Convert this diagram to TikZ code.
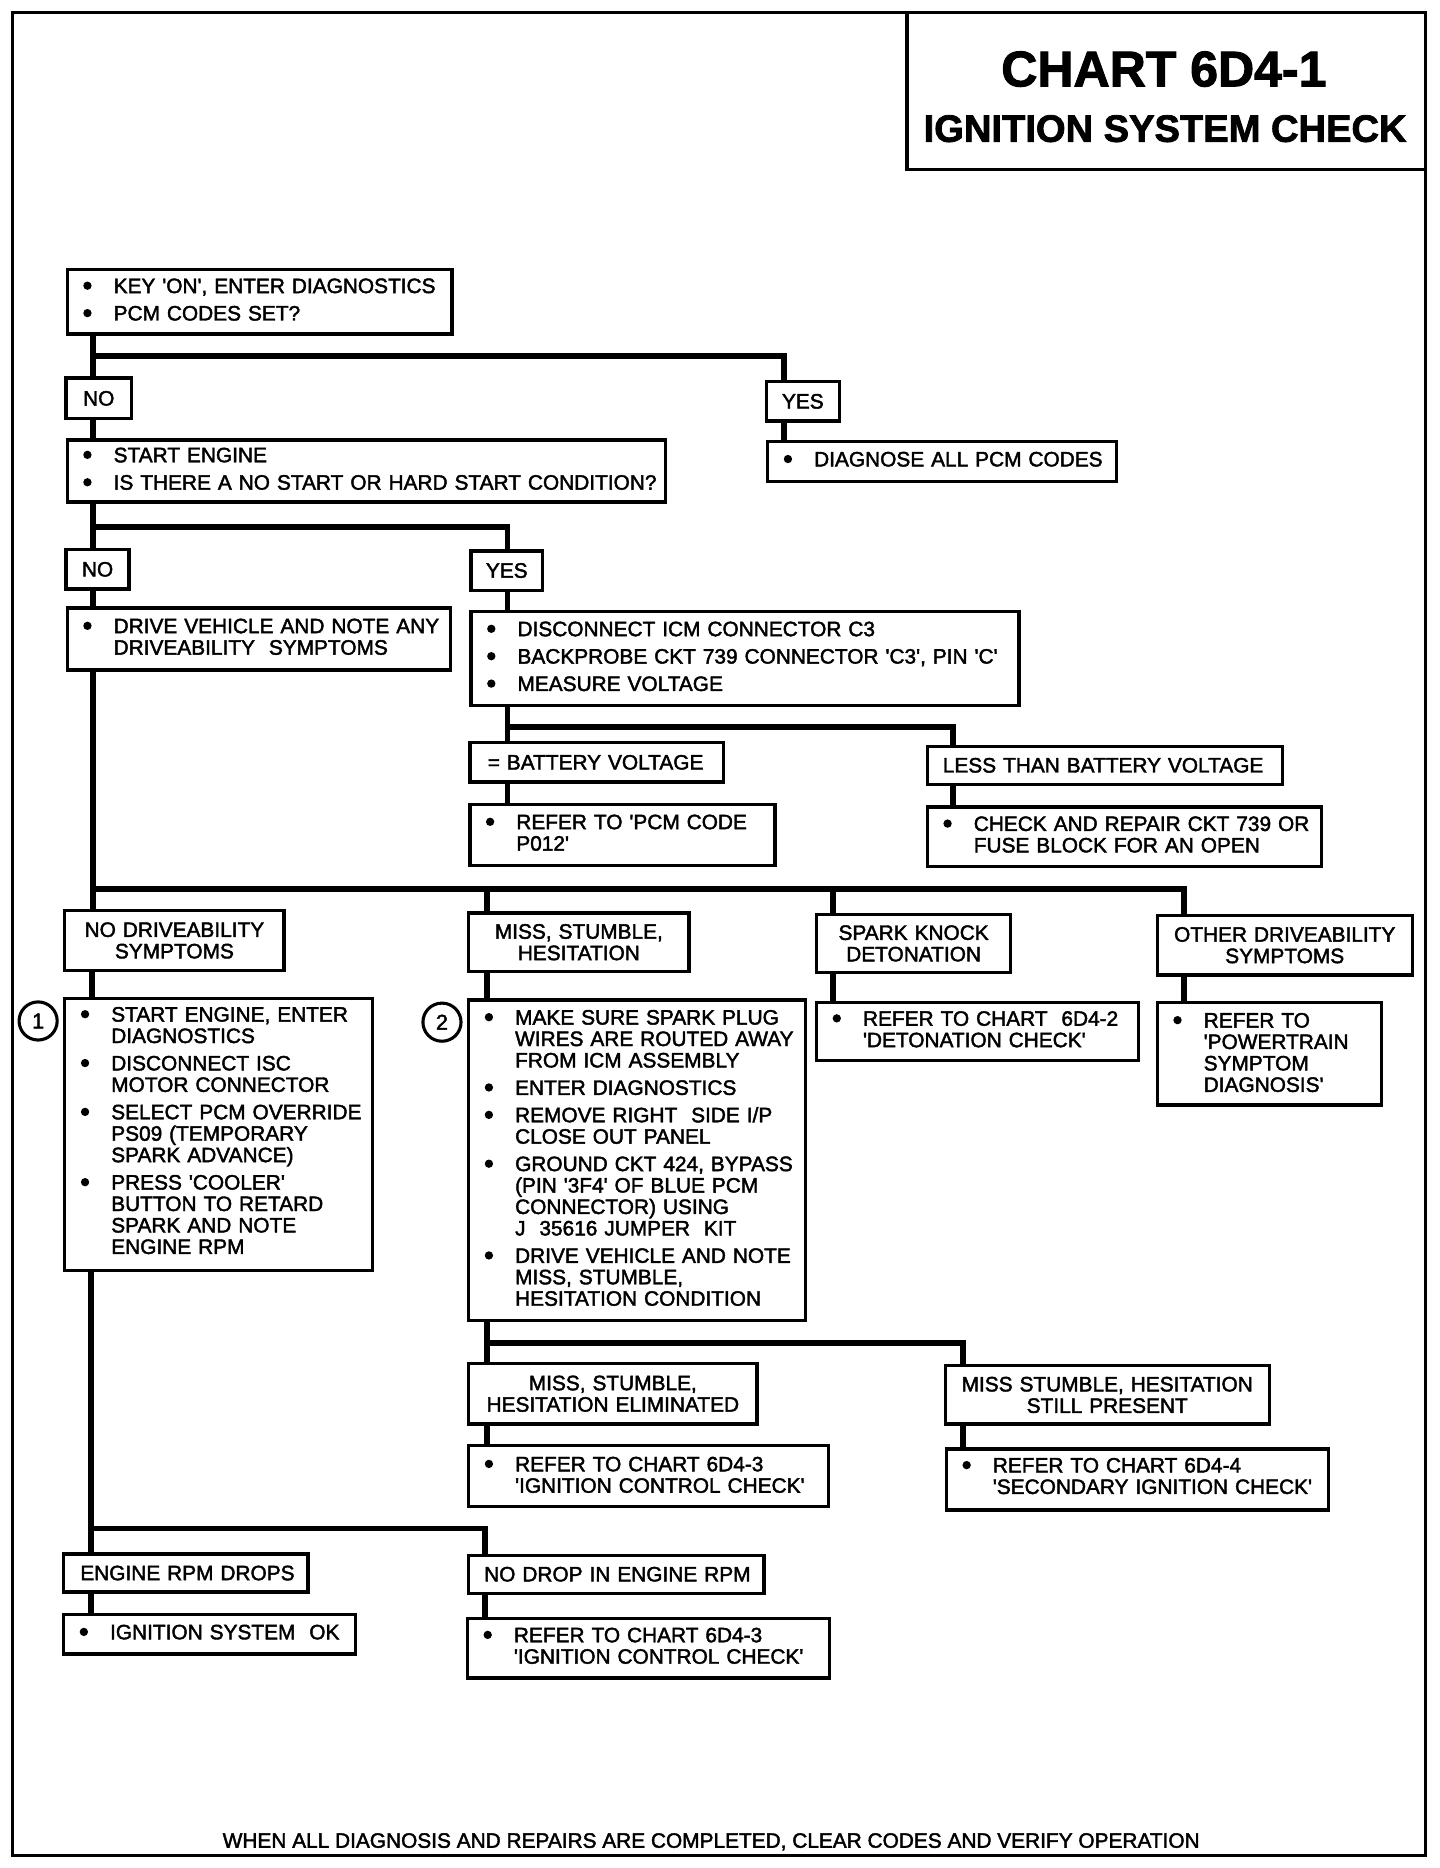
\documentclass[tikz,border=0pt]{standalone}
\usepackage{fontspec}
\setmainfont{Liberation Sans}[FakeBold=2]
\newcommand{\bdot}{\tikz[baseline=-6.2pt]\fill (0,0) circle (3.5pt);}
\newcommand{\bone}[1]{\noindent\hspace*{13.5pt}\makebox[25.5pt][l]{\bdot}\mbox{#1}}
\newcommand{\bl}[1]{\par\vspace{5pt}\noindent\hspace*{13.5pt}\makebox[25.5pt][l]{\bdot}\mbox{#1}}
\newcommand{\cl}[1]{\par\noindent\hspace*{39pt}\mbox{#1}}
\newcommand{\eb}[1][4pt]{\rule[-#1]{0pt}{#1}}
\newcommand{\ofs}[2]{\noindent\hspace*{#1}\mbox{#2}}
\newcommand{\sq}{\textquotesingle}
\tikzset{
  box/.style={draw, line width=2.8pt, inner sep=0pt, anchor=north west,
    font=\fontsize{17.5}{18}\selectfont},
  lbox/.style={box, align=left},
  cbox/.style={box, align=center},
  frm/.style={draw, line width=2.8pt, inner sep=0pt, anchor=north west},
  conn/.style={line width=5pt},
  circ/.style={draw, circle, line width=2.6pt, minimum size=32pt, inner sep=0pt,
    font=\fontsize{18}{18}\selectfont},
  txt/.style={font=\fontsize{17.5}{18}\selectfont},
}
\begin{document}
\begin{tikzpicture}[x=1pt,y=-1pt]
\fill[white] (0,0) rectangle (1208.7,1568);
\useasboundingbox (0,0) rectangle (1208.7,1568);
% frame and title
\node[frm, minimum width=1186pt, minimum height=1547pt] (frame) at (9,9) {};
\node[frm, minimum width=435pt, minimum height=132pt] (tbox) at (760,9) {};
\node[font=\fontsize{42}{48}\selectfont\bfseries] (t1) at (977,58) {CHART 6D4-1};
\node[font=\fontsize{32}{36}\selectfont\bfseries] (t2) at (978,108) {IGNITION SYSTEM CHECK};
% boxes
\node[lbox, text width=323pt, minimum height=54pt] (b1) at (55,225)
  {\bone{KEY \sq ON\sq, ENTER DIAGNOSTICS}\bl{PCM CODES SET?}\eb};
\node[cbox, text width=55pt, minimum height=34pt] (no1) at (54,316) {NO};
\node[cbox, text width=61pt, minimum height=33pt] (yes1) at (642,319) {YES};
\node[lbox, text width=293pt, minimum height=34pt] (diag) at (643,369)
  {\bone{DIAGNOSE ALL PCM CODES}\eb};
\node[lbox, text width=502pt, minimum height=52pt] (b2) at (55,368)
  {\bone{START ENGINE}\bl{IS THERE A NO START OR HARD START CONDITION?}\eb};
\node[cbox, text width=53pt, minimum height=33pt] (no2) at (54,460) {NO};
\node[cbox, text width=60pt, minimum height=33pt] (yes2) at (394,461) {YES};
\node[lbox, text width=322pt, minimum height=52pt] (b3) at (55,509)
  {\bone{DRIVE VEHICLE AND NOTE ANY}\cl{DRIVEABILITY\ \ SYMPTOMS}\eb};
\node[lbox, text width=460pt, minimum height=79pt] (b4) at (394,512)
  {\bone{DISCONNECT ICM CONNECTOR C3}\bl{BACKPROBE CKT 739 CONNECTOR \sq C3\sq, PIN \sq C\sq}\bl{MEASURE VOLTAGE}\eb};
\node[lbox, text width=213pt, minimum height=33pt] (batt) at (393,622)
  {\ofs{15pt}{= BATTERY VOLTAGE}};
\node[lbox, text width=298pt, minimum height=32pt] (less) at (777,625)
  {\ofs{13pt}{LESS THAN BATTERY VOLTAGE}};
\node[lbox, text width=256pt, minimum height=51pt] (pcm) at (393,674)
  {\bone{REFER TO \sq PCM CODE}\cl{P012\sq}\eb};
\node[lbox, text width=331pt, minimum height=50pt] (chk) at (777,676)
  {\bone{CHECK AND REPAIR CKT 739 OR}\cl{FUSE BLOCK FOR AN OPEN}\eb};
\node[cbox, text width=184pt, minimum height=50pt] (nd) at (53,763) {NO DRIVEABILITY\\SYMPTOMS};
\node[cbox, text width=185pt, minimum height=49pt] (ms) at (392,765) {MISS, STUMBLE,\\HESITATION};
\node[cbox, text width=163pt, minimum height=49pt] (sk) at (684,766) {SPARK KNOCK\\DETONATION};
\node[cbox, text width=214pt, minimum height=50pt] (od) at (970,767) {OTHER DRIVEABILITY\\SYMPTOMS};
\node[lbox, text width=258pt, minimum height=228pt] (bx1) at (53,837)
  {\bone{START ENGINE, ENTER}\cl{DIAGNOSTICS}%
   \bl{DISCONNECT ISC}\cl{MOTOR CONNECTOR}%
   \bl{SELECT PCM OVERRIDE}\cl{PS09 (TEMPORARY}\cl{SPARK ADVANCE)}%
   \bl{PRESS \sq COOLER\sq}\cl{BUTTON TO RETARD}\cl{SPARK AND NOTE}\cl{ENGINE RPM}\eb[7pt]};
\node[lbox, text width=283pt, minimum height=269pt] (bx2) at (392,838)
  {\bone{MAKE SURE SPARK PLUG}\cl{WIRES ARE ROUTED AWAY}\cl{FROM ICM ASSEMBLY}%
   \bl{ENTER DIAGNOSTICS}%
   \bl{REMOVE RIGHT\ \ SIDE I/P}\cl{CLOSE OUT PANEL}%
   \bl{GROUND CKT 424, BYPASS}\cl{(PIN \sq 3F4\sq\ OF BLUE PCM}\cl{CONNECTOR) USING}\cl{J\ \ 35616 JUMPER\ \ KIT}%
   \bl{DRIVE VEHICLE AND NOTE}\cl{MISS, STUMBLE,}\cl{HESITATION CONDITION}\eb};
\node[lbox, text width=270pt, minimum height=49pt] (r2) at (684,840)
  {\bone{REFER TO CHART\ \ 6D4-2}\cl{\sq DETONATION CHECK\sq}\eb};
\node[lbox, text width=188pt, minimum height=86pt] (rp) at (970,840)
  {\bone{REFER TO}\cl{\sq POWERTRAIN}\cl{SYMPTOM}\cl{DIAGNOSIS\sq}\eb[2pt]};
\node[cbox, text width=242pt, minimum height=51pt] (me) at (392,1143) {MISS, STUMBLE,\\HESITATION ELIMINATED};
\node[cbox, text width=272pt, minimum height=49pt] (mp) at (792,1145) {MISS STUMBLE, HESITATION\\STILL PRESENT};
\node[lbox, text width=302pt, minimum height=51pt] (r3a) at (392,1212)
  {\bone{REFER TO CHART 6D4-3}\cl{\sq IGNITION CONTROL CHECK\sq}\eb[2pt]};
\node[lbox, text width=321pt, minimum height=51pt] (r4) at (793,1215)
  {\bone{REFER TO CHART 6D4-4}\cl{\sq SECONDARY IGNITION CHECK\sq}\eb[6pt]};
\node[lbox, text width=205pt, minimum height=32pt] (er) at (52,1303)
  {\ofs{14pt}{ENGINE RPM DROPS}};
\node[lbox, text width=245pt, minimum height=33pt] (io) at (52,1354)
  {\bone{IGNITION SYSTEM\ \ OK}\eb};
\node[lbox, text width=248pt, minimum height=32pt] (nd2) at (392,1304)
  {\ofs{13pt}{NO DROP IN ENGINE RPM}};
\node[lbox, text width=304pt, minimum height=50pt] (r3b) at (391,1357)
  {\bone{REFER TO CHART 6D4-3}\cl{\sq IGNITION CONTROL CHECK\sq}\eb};
% step numbers
\node[circ] (c1) at (32,857) {1};
\node[circ] (c2) at (371,858) {2};
% footer
\node[txt] (foot) at (597,1546) {WHEN ALL DIAGNOSIS AND REPAIRS ARE COMPLETED, CLEAR CODES AND VERIFY OPERATION};
% connector guide coordinates
\coordinate (vA) at (78,0);
\coordinate (vA2) at (77,0);
\coordinate (vA3) at (76,0);
\coordinate (vY1) at (658,0);
\coordinate (vB) at (426,0);
\coordinate (vL) at (800,0);
\coordinate (vMS) at (409,0);
\coordinate (vSK) at (699,0);
\coordinate (vOD) at (994,0);
\coordinate (vMP) at (808,0);
\coordinate (vND) at (407,0);
\coordinate (h1) at (0,299);
\coordinate (h2) at (0,442);
\coordinate (h3) at (0,610);
\coordinate (h4) at (0,746);
\coordinate (h5) at (0,1127);
\coordinate (h6) at (0,1283);
% connectors
\draw[conn] (b1.south -| vA) -- (no1.north -| vA);
\draw[conn] (vA |- h1) -| (yes1.north -| vY1);
\draw[conn] (no1.south -| vA) -- (b2.north -| vA);
\draw[conn] (yes1.south -| vY1) -- (diag.north -| vY1);
\draw[conn] (b2.south -| vA) -- (no2.north -| vA);
\draw[conn] (vA |- h2) -| (yes2.north -| vB);
\draw[conn] (no2.south -| vA) -- (b3.north -| vA);
\draw[conn] (yes2.south -| vB) -- (b4.north -| vB);
\draw[conn] (b4.south -| vB) -- (batt.north -| vB);
\draw[conn] (vB |- h3) -| (less.north -| vL);
\draw[conn] (batt.south -| vB) -- (pcm.north -| vB);
\draw[conn] (less.south -| vL) -- (chk.north -| vL);
\draw[conn] (b3.south -| vA) -- (nd.north -| vA);
\draw[conn] (vA |- h4) -| (od.north -| vOD);
\draw[conn] (vMS |- h4) -- (ms.north -| vMS);
\draw[conn] (vSK |- h4) -- (sk.north -| vSK);
\draw[conn] (nd.south -| vA2) -- (bx1.north -| vA2);
\draw[conn] (ms.south -| vMS) -- (bx2.north -| vMS);
\draw[conn] (sk.south -| vSK) -- (r2.north -| vSK);
\draw[conn] (od.south -| vOD) -- (rp.north -| vOD);
\draw[conn] (bx2.south -| vMS) -- (me.north -| vMS);
\draw[conn] (vMS |- h5) -| (mp.north -| vMP);
\draw[conn] (me.south -| vMS) -- (r3a.north -| vMS);
\draw[conn] (mp.south -| vMP) -- (r4.north -| vMP);
\draw[conn] (bx1.south -| vA3) -- (er.north -| vA3);
\draw[conn] (vA3 |- h6) -| (nd2.north -| vND);
\draw[conn] (er.south -| vA3) -- (io.north -| vA3);
\draw[conn] (nd2.south -| vND) -- (r3b.north -| vND);
\end{tikzpicture}
\end{document}
